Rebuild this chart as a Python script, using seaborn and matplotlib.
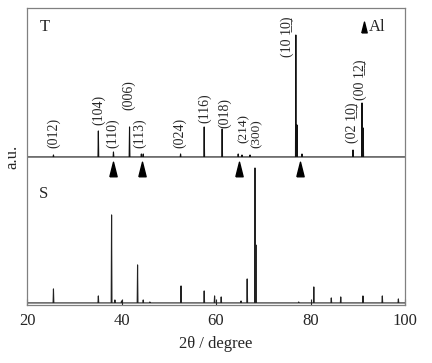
import numpy as np
import pandas as pd
import matplotlib
matplotlib.use('Agg')
import matplotlib.pyplot as plt
import seaborn as sns

# --- data (2theta in degrees, heights in a.u.) ---
t_pos = [25.6, 35.1, 38.3, 41.7, 44.2, 44.6, 52.5, 57.5, 61.3, 64.7, 65.5, 67.2,
         76.9, 77.15, 78.2, 89.0, 90.9, 91.15]
t_height = [2, 26, 5, 30, 3, 3, 3, 30, 28, 3, 2, 2,
            122, 32, 3, 7, 54, 29]

s_pos = [25.6, 35.1, 37.9, 38.6, 40.0, 43.4, 44.6, 46.0, 52.6, 57.5, 59.7, 61.1,
         65.3, 66.6, 68.25, 68.45, 77.5, 80.7, 84.4, 86.4, 91.1, 95.2, 98.6]
s_height = [14, 7, 88, 3, 2, 38, 3, 1, 17, 12, 7, 6,
            2, 24, 135, 58, 1, 16, 5, 6, 7, 7, 4]

t_base = 148
s_base = 2

al_pos = [38.2, 44.3, 64.9, 77.8]

U = '\u0332'
hkl_labels = ['(012)', '(104)', '(110)', '(006)', '(113)', '(024)', '(116)', '(018)',
              '(214)', '(300)', '(10 1' + U + '0' + U + ')',
              '(02 1' + U + '0' + U + ')', '(00 1' + U + '2' + U + ')']
hkl_x = [25.6, 35.1, 38.2, 41.6, 43.9, 52.4, 57.5, 61.9, 65.9, 68.5, 75.0, 88.8, 90.5]
hkl_y = [157, 180, 157, 195, 157, 157, 182, 177, 162, 157, 248, 162, 205]
hkl_size = [10, 10, 10, 10, 10, 10, 10, 10, 9.5, 9.5, 10, 10, 10]


def build_trace(pos, height, base, name):
    # stick-like peaks on a flat baseline
    xs, ys = [20.0], [base]
    w = 0.08
    for p, h in zip(pos, height):
        xs += [p - w, p, p + w]
        ys += [base, base + h, base]
    xs.append(100.0)
    ys.append(base)
    return pd.DataFrame({'two_theta': xs, 'intensity': ys, 'sample': name})


df_t = build_trace(t_pos, t_height, t_base, 'T')
df_s = build_trace(s_pos, s_height, s_base, 'S')

sns.set_style('ticks')
plt.rcParams['font.family'] = ['Liberation Serif', 'DejaVu Serif']

fig = plt.figure(figsize=(4.32, 3.63), dpi=100)
ax = fig.add_axes([0.0625, 0.16, 0.875, 0.818])

sns.lineplot(data=df_t, x='two_theta', y='intensity', sort=False, estimator=None,
             color='#111111', lw=0.8, ax=ax)
sns.lineplot(data=df_s, x='two_theta', y='intensity', sort=False, estimator=None,
             color='#222222', lw=0.8, ax=ax)

# Al markers
tri = [(-0.5, -1.0), (0.5, -1.0), (0.0, 1.0), (-0.5, -1.0)]
ax.scatter(al_pos, [136] * len(al_pos), marker=tri, s=110, color='black', zorder=3)
ax.scatter([91.4], [278], marker=tri, s=60, color='black', zorder=3)
ax.text(92.3, 278, 'Al', fontsize=12, va='center', ha='left')

for lab, x, y, fs in zip(hkl_labels, hkl_x, hkl_y, hkl_size):
    ax.text(x, y, lab, rotation=90, ha='center', va='bottom', fontsize=fs)

ax.text(22.6, 278, 'T', fontsize=12, va='center', ha='left')
ax.text(22.6, 111, 'S', fontsize=12, va='center', ha='left')

ax.set_xlim(20, 100)
ax.set_ylim(0, 297)
ax.set_xticks([20, 40, 60, 80, 100])
ax.set_yticks([])
ax.tick_params(axis='x', direction='in', length=4, width=0.8, labelsize=12, pad=6)
for sp in ax.spines.values():
    sp.set_visible(True)
    sp.set_color('#808080')
    sp.set_linewidth(0.9)
ax.set_xlabel('2θ / degree', fontsize=12, labelpad=5)
ax.set_ylabel('')
fig.text(0.028, 1 - 157 / 363, 'a.u.', rotation=90, ha='center', va='center', fontsize=12)

fig.savefig('out.png', dpi=100)
